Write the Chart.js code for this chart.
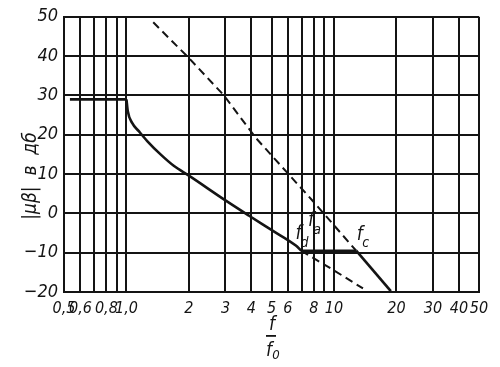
<!DOCTYPE html>
<html>
<head>
<meta charset="utf-8">
<script src="https://cdn.jsdelivr.net/npm/chart.js@4.4.1/dist/chart.umd.min.js"></script>
<style>
  html, body { margin: 0; padding: 0; background: #fff; }
  #wrap { width: 500px; height: 367px; }
</style>
</head>
<body>
<div id="wrap"><canvas id="chart"></canvas></div>
<script>
// оси
const xGrid = [0.5, 0.6, 0.7, 0.8, 0.9, 1, 2, 3, 4, 5, 6, 7, 8, 9, 10, 20, 30, 40, 50];
const xLabels = { 0.5: '0,5', 0.6: '0,6', 0.8: '0,8', 1: '1,0', 2: '2', 3: '3', 4: '4', 5: '5', 6: '6', 8: '8', 10: '10', 20: '20', 30: '30', 40: '40', 50: '50' };

// сплошная кривая |μβ| (f/f0, дб)
const plateau = [[0.534, 29], [1.0, 29]];
const rolloff = [[1.0, 29], [1.015, 26], [1.065, 23], [1.147, 20.9], [1.259, 18.4], [1.46, 15], [1.69, 12.1], [2.0, 9.6], [3.0, 3.3], [3.9, -0.6], [5.06, -4.4], [6.55, -8.2], [6.95, -9.5]];
const shelf = [[6.95, -9.5], [12.8, -9.5]];
const tail = [[12.8, -9.5], [18.8, -19.8]];

// пунктир
const asymptote = [[1.346, 48.6], [2.0, 39.5], [2.95, 30], [4.2, 19.2], [7.89, 3.2], [12.8, -9.5]];
const extension = [[6.95, -9.5], [10, -14.5], [13.8, -19.1]];

// подписи точек
const marks = [
  { name: 'f', sub: 'a', x: 7.75, y: -2.8 },
  { name: 'f', sub: 'd', x: 6.75, y: -6.0 },
  { name: 'f', sub: 'c', x: 13.3, y: -6.2 }
];

const toXY = arr => arr.map(p => ({ x: p[0], y: p[1] }));
const INK = '#141414';
const FAMILY = "'DejaVu Sans Condensed', 'Liberation Sans Narrow', 'DejaVu Sans', sans-serif";
const tickFont = { family: FAMILY, size: 16, style: 'italic' };

const solid = (data, mono) => ({
  data: toXY(data), borderColor: INK, borderWidth: 2.6, pointRadius: 0,
  cubicInterpolationMode: mono ? 'monotone' : 'default', tension: 0, fill: false
});
const dashed = data => ({
  data: toXY(data), borderColor: INK, borderWidth: 2, borderDash: [8, 5], pointRadius: 0, tension: 0, fill: false
});

const textPlugin = {
  id: 'texts',
  afterDraw(chart) {
    const ctx = chart.ctx;
    const xs = chart.scales.x, ys = chart.scales.y;
    ctx.save();
    ctx.fillStyle = INK;
    ctx.textBaseline = 'middle';
    ctx.textAlign = 'center';
    // подписи f_a, f_d, f_c
    marks.forEach(m => {
      const px = xs.getPixelForValue(m.x), py = ys.getPixelForValue(m.y);
      ctx.font = 'italic 19px ' + FAMILY;
      ctx.fillText(m.name, px, py - 3);
      ctx.font = 'italic 14px ' + FAMILY;
      ctx.fillText(m.sub, px + 6, py + 6);
    });
    // подпись оси x: f / f0
    const cx = 271;
    ctx.font = 'italic 19px ' + FAMILY;
    ctx.fillText('f', cx + 1, 325);
    ctx.fillRect(cx - 5, 335, 10, 1.8);
    ctx.fillText('f', cx - 2, 351);
    ctx.font = 'italic 13px ' + FAMILY;
    ctx.fillText('0', cx + 5, 356);
    // подпись оси y
    ctx.translate(31, 176);
    ctx.rotate(-Math.PI / 2);
    ctx.font = 'italic 19px ' + FAMILY;
    ctx.fillText('|μβ|  в  дб', 0, 0);
    ctx.restore();
  }
};

new Chart(document.getElementById('chart').getContext('2d'), {
  type: 'line',
  data: {
    datasets: [
      solid(plateau), solid(rolloff, true), solid(shelf), solid(tail),
      dashed(asymptote), dashed(extension)
    ]
  },
  options: {
    responsive: true,
    maintainAspectRatio: false,
    animation: false,
    layout: { padding: { top: 16, right: 21, left: 0, bottom: 0 } },
    plugins: { legend: { display: false }, tooltip: { enabled: false } },
    scales: {
      x: {
        type: 'logarithmic', min: 0.5, max: 50,
        afterBuildTicks: s => { s.ticks = xGrid.map(v => ({ value: v })); },
        afterFit: s => { s.height = 75; },
        grid: { color: INK, lineWidth: 2, drawTicks: false },
        border: { color: INK, width: 2 },
        ticks: {
          autoSkip: false, maxRotation: 0, padding: 7, color: INK, font: tickFont,
          callback: v => xLabels[v] || ''
        }
      },
      y: {
        min: -20, max: 50,
        afterFit: s => { s.width = 64; },
        grid: { color: INK, lineWidth: 2, drawTicks: false },
        border: { color: INK, width: 2 },
        ticks: {
          stepSize: 10, padding: 6, color: INK, font: { ...tickFont, size: 18 },
          callback: v => String(v).replace('-', '\u2212')
        }
      }
    }
  },
  plugins: [textPlugin]
});
</script>
</body>
</html>
